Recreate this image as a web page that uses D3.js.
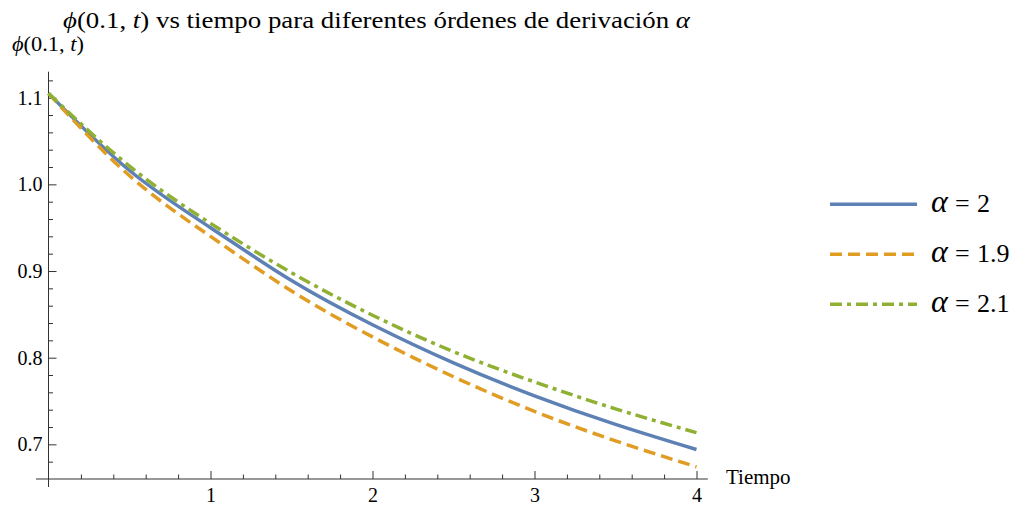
<!DOCTYPE html>
<html>
<head>
<meta charset="utf-8">
<script src="https://cdn.jsdelivr.net/npm/d3@7"></script>
<style>
  body { margin: 0; background: #fff; }
  text { font-family: "Liberation Serif", serif; fill: #000; }
</style>
</head>
<body>
<div id="chart"></div>
<script>
// - - Data - -
const tiempo = [0, 0.5, 1, 1.5, 2, 2.5, 3, 3.5, 4];
const alpha2 = [1.105, 1.016, 0.950, 0.889, 0.838, 0.794, 0.756, 0.723, 0.694];
const alpha19 = [1.105, 1.010, 0.940, 0.877, 0.824, 0.778, 0.738, 0.704, 0.674];
const alpha21 = [1.105, 1.021, 0.955, 0.898, 0.849, 0.807, 0.772, 0.741, 0.7135];
const legendLabels = ["2", "1.9", "2.1"];
const xTicks = [1, 2, 3, 4];
const yTicks = [0.7, 0.8, 0.9, 1.0, 1.1];

const series = [
    { label: legendLabels[0], values: alpha2, color: "#5E81B5", dash: null },
    { label: legendLabels[1], values: alpha19, color: "#E19C24", dash: "12,6" },
    { label: legendLabels[2], values: alpha21, color: "#8FB032", dash: "12,5,4,5" }
];

// Chart Sizing
const WIDTH = 1021;
const HEIGHT = 512;
const FONT = "Liberation Serif, serif";

const svg = d3.select("#chart")
    .append("svg")
        .attr("width", WIDTH)
        .attr("height", HEIGHT)
        .attr("font-family", FONT);

const x = d3.scaleLinear().domain([0, 4]).range([48.5, 696.5]);
const y = d3.scaleLinear().domain([0.66, 1.13]).range([479, 71.7]);

// - - Axes - -
const axisColor = "#333";

// Minor ticks
svg.append("g")
    .attr("transform", `translate(0, ${y(0.66)})`)
    .call(d3.axisBottom(x).tickValues(d3.range(0.2, 4.01, 0.2).filter(v => Math.abs(v - Math.round(v)) > 0.01)).tickSize(-4.5).tickFormat(""))
    .call(g => g.select(".domain").remove())
    .selectAll("line").attr("stroke", axisColor);

svg.append("g")
    .attr("transform", `translate(${x(0)}, 0)`)
    .call(d3.axisRight(y).tickValues(d3.range(0.68, 1.125, 0.02).filter(v => Math.abs(v * 10 - Math.round(v * 10)) > 0.01)).tickSize(4.5).tickFormat(""))
    .call(g => g.select(".domain").remove())
    .selectAll("line").attr("stroke", axisColor);

// Major ticks
const xAxis = svg.append("g")
    .attr("transform", `translate(0, ${y(0.66)})`)
    .call(d3.axisBottom(x).tickValues(xTicks).tickSize(-8).tickPadding(0).tickFormat(d3.format("d")))
    .call(g => g.select(".domain").remove())
    .attr("font-family", FONT);
xAxis.selectAll("line").attr("stroke", axisColor);
xAxis.selectAll("text")
    .attr("y", 23)
    .attr("dy", null)
    .style("font-size", "20px");

const yAxis = svg.append("g")
    .attr("transform", `translate(${x(0)}, 0)`)
    .call(d3.axisRight(y).tickValues(yTicks).tickSize(8).tickFormat(d3.format(".1f")))
    .call(g => g.select(".domain").remove())
    .attr("font-family", FONT);
yAxis.selectAll("line").attr("stroke", axisColor);
yAxis.selectAll("text")
    .attr("x", -6)
    .attr("dy", "0.32em")
    .attr("text-anchor", "end")
    .style("font-size", "20px");

// Axis lines
svg.append("line")
    .attr("x1", x(-0.077)).attr("x2", x(4.07))
    .attr("y1", y(0.66)).attr("y2", y(0.66))
    .attr("stroke", axisColor).attr("stroke-width", 1);
svg.append("line")
    .attr("x1", x(0)).attr("x2", x(0))
    .attr("y1", y(1.13)).attr("y2", y(0.66) + 8)
    .attr("stroke", axisColor).attr("stroke-width", 1);

// Axis labels
svg.append("text")
    .attr("x", 726).attr("y", 484)
    .style("font-size", "21px")
    .text("Tiempo");

const yLab = svg.append("text")
    .attr("x", 12).attr("y", 51)
    .attr("textLength", 72)
    .attr("lengthAdjust", "spacingAndGlyphs")
    .style("font-size", "20px");
yLab.append("tspan").style("font-style", "italic").text("ϕ");
yLab.append("tspan").text("(0.1, ");
yLab.append("tspan").style("font-style", "italic").text("t");
yLab.append("tspan").text(")");

// Title
const title = svg.append("text")
    .attr("x", 63).attr("y", 28)
    .attr("textLength", 627)
    .attr("lengthAdjust", "spacingAndGlyphs")
    .style("font-size", "24px");
title.append("tspan").style("font-style", "italic").text("ϕ");
title.append("tspan").text("(0.1, ");
title.append("tspan").style("font-style", "italic").text("t");
title.append("tspan").text(") vs tiempo para diferentes órdenes de derivación ");
title.append("tspan").style("font-style", "italic").text("α");

// - - Curves - -
const line = d3.line()
    .x((d, i) => x(tiempo[i]))
    .y(d => y(d))
    .curve(d3.curveNatural);

svg.append("g")
    .selectAll("path")
    .data(series)
    .enter()
    .append("path")
        .attr("d", d => line(d.values))
        .attr("fill", "none")
        .attr("stroke", d => d.color)
        .attr("stroke-width", 3.5)
        .attr("stroke-dasharray", d => d.dash);

// - - Legend - -
const legend = svg.append("g");
series.forEach((s, i) => {
    const ly = 204.3 + i * 50;
    legend.append("line")
        .attr("x1", 830).attr("x2", 917)
        .attr("y1", ly).attr("y2", ly)
        .attr("stroke", s.color)
        .attr("stroke-width", 3.5)
        .attr("stroke-dasharray", s.dash);
    legend.append("text")
        .attr("x", 931).attr("y", ly + 7.5)
        .style("font-size", "32px")
        .style("font-style", "italic")
        .text("α");
    legend.append("text")
        .attr("x", 955).attr("y", ly + 7.5)
        .style("font-size", "26px")
        .text("=");
    legend.append("text")
        .attr("x", 977).attr("y", ly + 7.5)
        .style("font-size", "26px")
        .text(s.label);
});
</script>
</body>
</html>
